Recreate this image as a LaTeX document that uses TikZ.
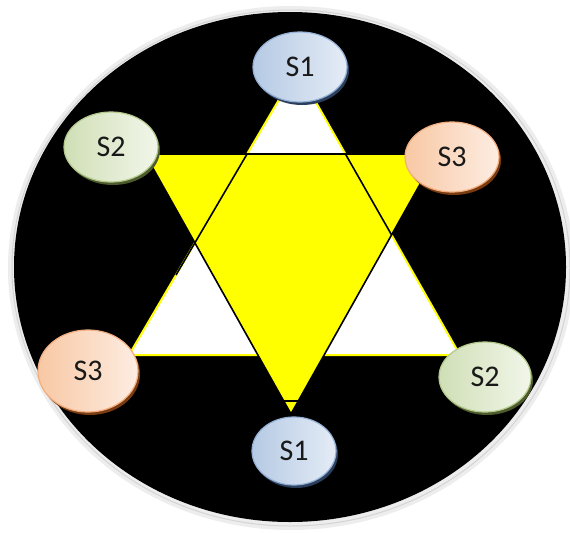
\documentclass[tikz,border=0pt]{standalone}
\usepackage{fontspec}
\setmainfont{Carlito}
\usepackage{xcolor}
\usepackage{tikz}
\usetikzlibrary{shapes.geometric, shadows, calc}

\definecolor{soneA}{HTML}{B6CAE4}
\definecolor{soneB}{HTML}{E4ECF6}
\definecolor{soneRim}{HTML}{95B1D6}
\definecolor{soneShd}{HTML}{2B3F5C}
\definecolor{stwoA}{HTML}{D0DFB6}
\definecolor{stwoB}{HTML}{F2F6EA}
\definecolor{stwoRim}{HTML}{B3C98C}
\definecolor{stwoShd}{HTML}{4C5A2C}
\definecolor{sthreeA}{HTML}{F8C8A4}
\definecolor{sthreeB}{HTML}{FDEDE2}
\definecolor{sthreeRim}{HTML}{F2AE80}
\definecolor{sthreeShd}{HTML}{7A3B10}
\definecolor{ringGray}{HTML}{EDEDED}
\definecolor{ringLine}{HTML}{D4D4D4}
\definecolor{starYellow}{RGB}{255,255,0}

\begin{document}
\begin{tikzpicture}[
    x=1pt, y=-1pt,
    bub/.style={ellipse, inner sep=0pt, minimum width=94pt, minimum height=70pt,
                line width=1.2pt, text=black!90, font=\fontsize{30}{34}\selectfont},
    sone/.style={bub, draw=soneRim, left color=soneA, right color=soneB,
                 drop shadow={shadow xshift=2pt, shadow yshift=-3pt, fill=soneShd, opacity=1}},
    stwo/.style={bub, draw=stwoRim, left color=stwoA, right color=stwoB,
                 drop shadow={shadow xshift=2pt, shadow yshift=-3pt, fill=stwoShd, opacity=1}},
    sthree/.style={bub, draw=sthreeRim, left color=sthreeA, right color=sthreeB,
                   drop shadow={shadow xshift=2pt, shadow yshift=-3pt, fill=sthreeShd, opacity=1}},
    upline/.style={line width=2pt, draw=starYellow},
    blkline/.style={line width=1.6pt, draw=black}
]
\useasboundingbox (0,0) rectangle (570,533);
\fill[white] (0,0) rectangle (570,533);
\fill[ringGray] (291,268) ellipse [x radius=283, y radius=262];
\draw[ringLine, line width=1pt] (291,268) ellipse [x radius=279, y radius=258];
\fill[black] (290,267) ellipse [x radius=276, y radius=255];

\coordinate (wt) at (297,69);
\coordinate (wl) at (129,355);
\coordinate (wr) at (460,355);
\coordinate (yl) at (145,154);
\coordinate (yr) at (437,154);
\coordinate (yb) at (291,414);

\filldraw[upline, fill=white] (wt) -- (wl) -- (wr) -- cycle;
\filldraw[blkline, fill=starYellow] (yl) -- (yr) -- (yb) -- cycle;
\draw[blkline] ($(wt)!0.297!(wl)$) -- ($(wt)!0.72!(wl)$);
\draw[blkline] ($(wt)!0.297!(wr)$) -- ($(wt)!0.58!(wr)$);
\draw[blkline] ($(yb)!0.05!(yl)$) -- ($(yb)!0.05!(yr)$);

\node[sone] (s1top) at (300,67) {S1};
\node[stwo] (s2top) at (111,147) {S2};
\node[sthree] (s3top) at (452,157) {S3};
\node[sthree, minimum width=100pt, minimum height=82pt] (s3bot) at (88,371) {S3};
\node[sone, minimum width=84pt, minimum height=68pt] (s1bot) at (294,451) {S1};
\node[stwo, minimum width=92pt] (s2bot) at (485,377) {S2};
\end{tikzpicture}
\end{document}
